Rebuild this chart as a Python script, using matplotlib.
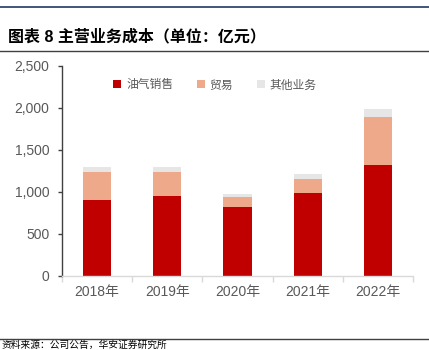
import matplotlib.pyplot as plt
import matplotlib.lines as mlines
import numpy as np

plt.rcParams['font.family'] = ['Liberation Sans', 'Noto Sans CJK SC', 'DejaVu Sans']

years = ['2018年', '2019年', '2020年', '2021年', '2022年']
oil_gas = [901, 952, 818, 988, 1318]
trade = [333, 282, 115, 167, 575]
other = [64, 64, 40, 55, 88]

red = '#C00000'
peach = '#EEA98B'
grey = '#E6E6E6'

fig = plt.figure(figsize=(4.29, 3.5), dpi=100)
ax = fig.add_axes([62 / 429, 1 - 275.7 / 350, 351 / 429, 210 / 350])

x = np.arange(len(years))
w = 0.4
b1 = ax.bar(x, oil_gas, w, color=red, label='油气销售')
b2 = ax.bar(x, trade, w, bottom=oil_gas, color=peach, label='贸易')
base = np.array(oil_gas) + np.array(trade)
b3 = ax.bar(x, other, w, bottom=base, color=grey, label='其他业务')

ax.set_xlim(-0.5, len(years) - 0.5)
ax.set_ylim(0, 2500)
ax.set_yticks(range(0, 2501, 500))
ax.set_yticklabels([f'{v:,}' for v in range(0, 2501, 500)])
ax.set_xticks(x)
ax.set_xticklabels(years)
ax.set_xticks(np.arange(-0.5, len(years)), minor=True)

for s in ['top', 'right']:
    ax.spines[s].set_visible(False)
ax.spines['left'].set_color('#404040')
ax.spines['left'].set_linewidth(1.0)
ax.spines['bottom'].set_color('#D9D9D9')
ax.spines['bottom'].set_linewidth(1.0)

ax.tick_params(axis='y', colors='#404040', labelcolor='#595959', labelsize=10,
               length=3, width=1.0, pad=6)
ax.tick_params(axis='x', which='major', length=0, labelcolor='#595959',
               labelsize=10, pad=7)
ax.tick_params(axis='x', which='minor', length=4, color='#D9D9D9', width=1.0)

leg = ax.legend(handles=[b1, b2, b3], loc='upper left',
                bbox_to_anchor=(0.115, 0.985), ncol=3, frameon=False,
                fontsize=8.5, handlelength=0.7, handleheight=0.7,
                handletextpad=0.4, columnspacing=2.0, labelcolor='#595959')

# header rules and title
fig.add_artist(mlines.Line2D([0, 1], [1 - 7 / 350] * 2, color='#1F3864', lw=1.2))
fig.add_artist(mlines.Line2D([0, 1], [1 - 51 / 350] * 2, color='#404040', lw=1.0))
fig.text(8 / 429, 1 - 41 / 350, '图表 8 主营业务成本（单位：亿元）',
         fontsize=11.5, fontweight='bold', color='black', va='baseline')

# footer rule and source
fig.add_artist(mlines.Line2D([0, 1], [1 - 339 / 350] * 2, color='#404040', lw=1.0))
fig.text(2 / 429, 1 - 348 / 350, '资料来源：公司公告，华安证券研究所',
         fontsize=7, color='black', va='baseline')

fig.savefig('out.png', dpi=100)
